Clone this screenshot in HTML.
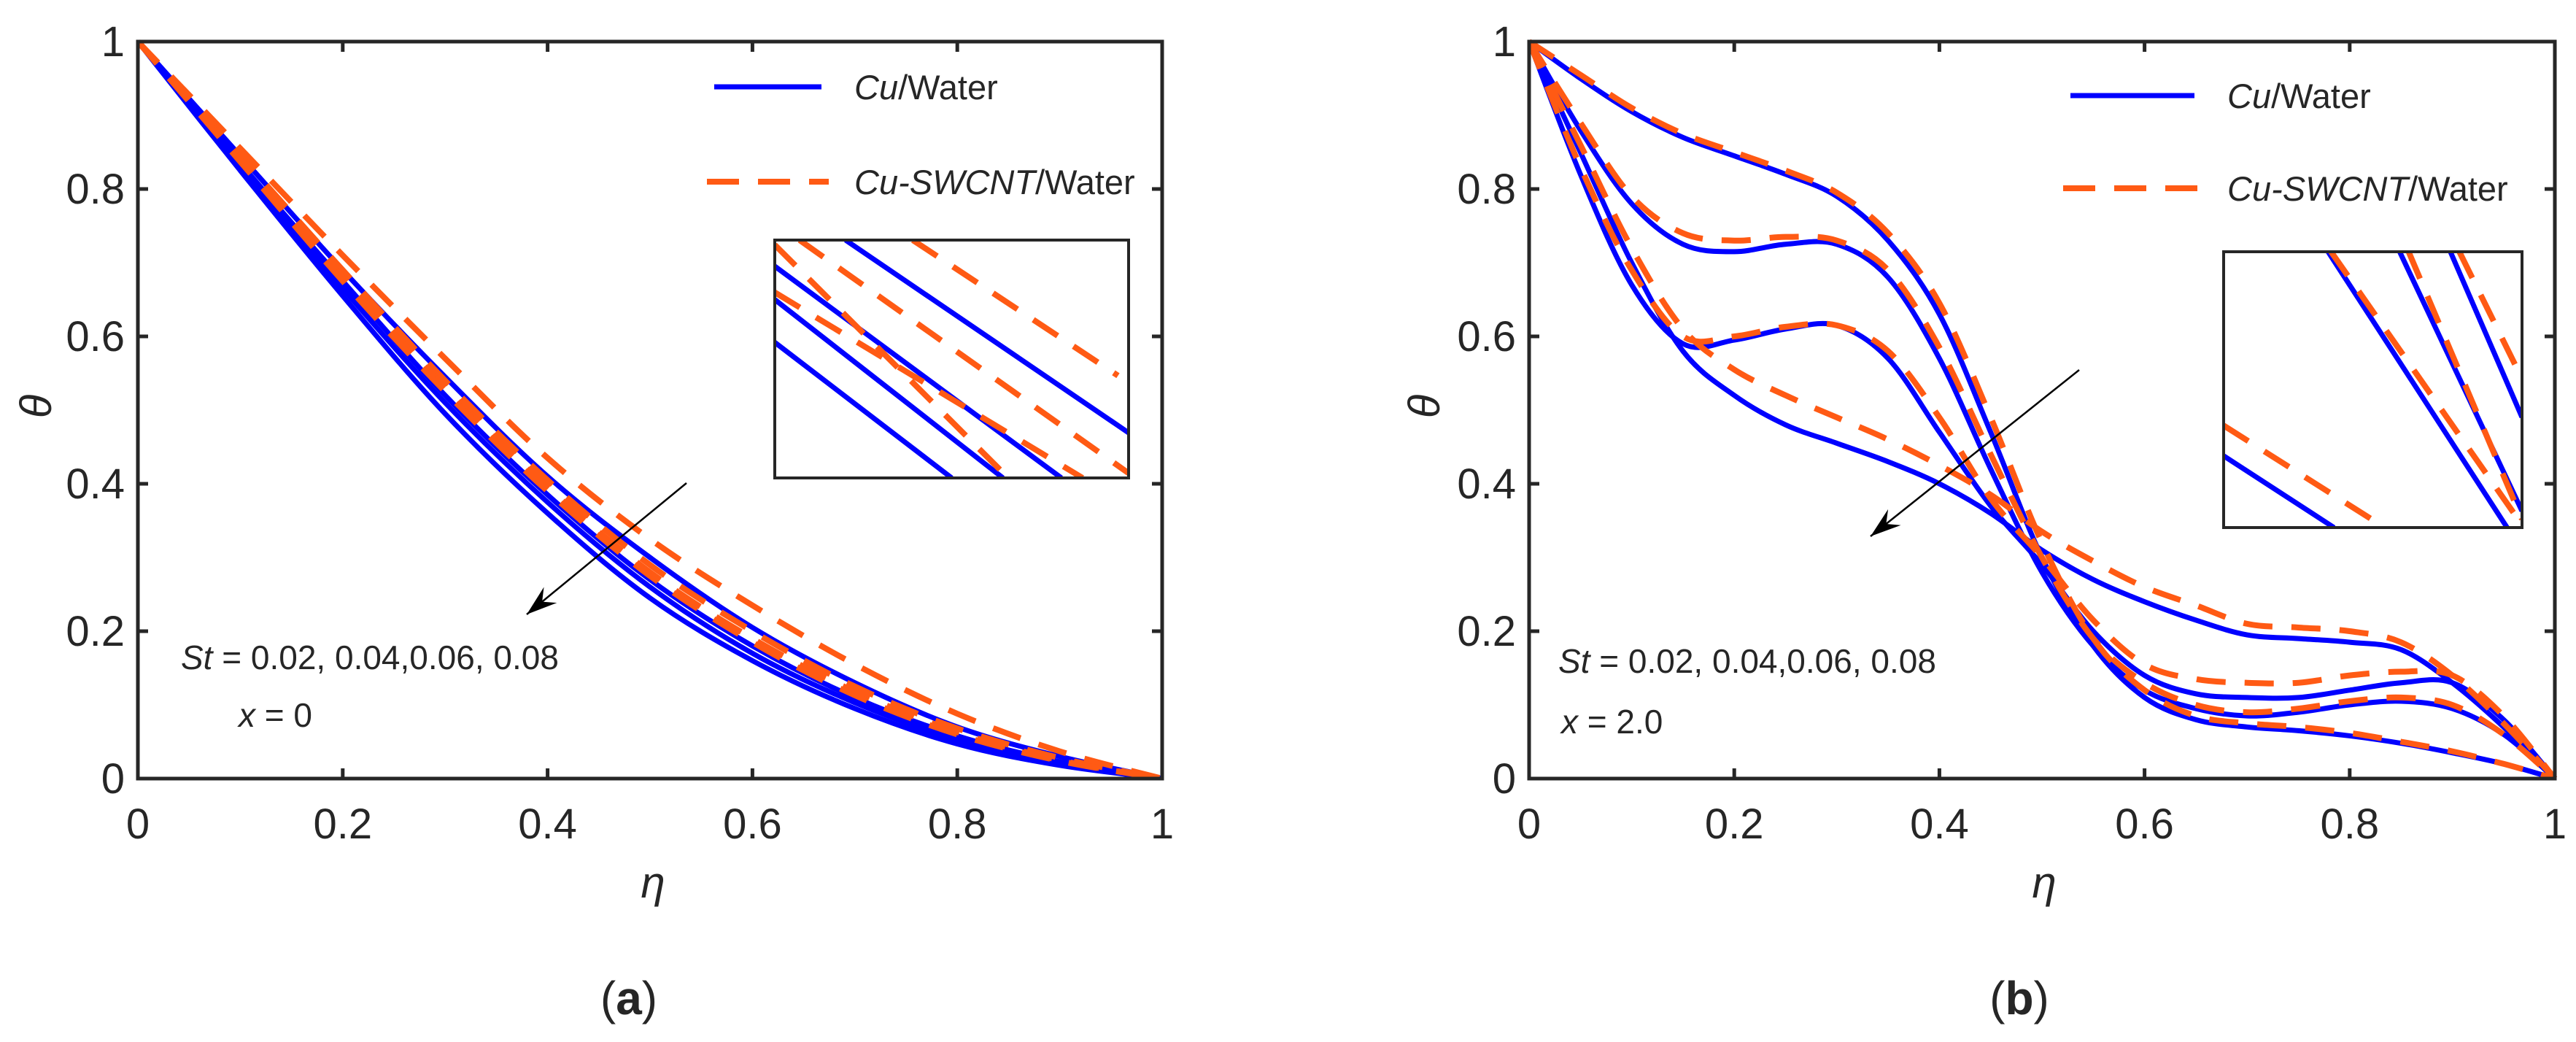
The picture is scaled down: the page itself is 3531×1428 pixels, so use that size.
<!DOCTYPE html>
<html><head><meta charset="utf-8"><style>
html,body{margin:0;padding:0;background:#fff;}
svg{display:block;}
text{font-family:"Liberation Sans",sans-serif;fill:#262626;}
</style></head><body>
<svg id="fig" width="3531" height="1428" viewBox="0 0 3531 1428" xmlns="http://www.w3.org/2000/svg"></svg>
<script>
// ---- data ----
const etaA = [0,0.1,0.2,0.3,0.4,0.5,0.6,0.7,0.8,0.9,1];
const cuWaterA = [
 [1,.845,.69,.545,.41,.30,.205,.13,.07,.03,0],
 [1,.835,.675,.52,.385,.27,.18,.11,.058,.023,0],
 [1,.83,.665,.51,.375,.26,.17,.103,.053,.02,0],
 [1,.825,.655,.495,.36,.245,.16,.095,.047,.018,0]];
const hybridA = [
 [1,.855,.71,.57,.435,.325,.235,.155,.088,.037,0],
 [1,.845,.69,.54,.405,.29,.20,.125,.068,.028,0],
 [1,.84,.68,.53,.395,.28,.19,.118,.063,.025,0],
 [1,.837,.675,.525,.39,.275,.185,.113,.06,.024,0]];
const etaB = [0,.05,.1,.15,.2,.25,.3,.35,.4,.45,.5,.55,.6,.65,.7,.75,.8,.85,.9,.95,1];
const cuWaterB = [
 [1,.95,.905,.87,.845,.82,.79,.73,.63,.47,.30,.18,.11,.08,.07,.065,.058,.048,.035,.02,0],
 [1,.88,.78,.725,.715,.725,.725,.68,.57,.42,.28,.18,.12,.095,.085,.09,.10,.105,.095,.06,0],
 [1,.82,.67,.59,.595,.61,.615,.57,.47,.37,.29,.2,.14,.115,.11,.11,.12,.13,.13,.08,0],
 [1,.85,.70,.58,.52,.48,.455,.43,.40,.36,.31,.27,.24,.215,.195,.19,.185,.175,.13,.07,0]];
const hybridB = [
 [1,.955,.91,.875,.85,.825,.795,.74,.645,.49,.32,.19,.12,.085,.075,.07,.062,.05,.037,.02,0],
 [1,.89,.79,.74,.73,.735,.73,.69,.585,.44,.30,.19,.13,.10,.09,.095,.105,.11,.10,.06,0],
 [1,.83,.69,.60,.60,.613,.615,.58,.49,.38,.30,.215,.155,.135,.13,.13,.14,.145,.14,.085,0],
 [1,.86,.72,.61,.555,.52,.49,.46,.425,.385,.335,.295,.26,.235,.21,.205,.2,.185,.14,.075,0]];
const ticks = [0,0.2,0.4,0.6,0.8,1];
const tickLabels = ["0","0.2","0.4","0.6","0.8","1"];
// inset segments in inset-fraction units [x1,y1,x2,y2]
const insetA_blue = [[.20,0,1,.81],[0,.11,.81,1],[0,.25,.645,1],[0,.43,.5,1]];
const insetA_orange = [[.39,0,.97,.57],[.07,0,1,.98],[0,.22,.87,1],[0,.02,.66,1]];
const insetB_blue = [[.35,0,.95,1],[.59,0,1,.94],[.76,0,1,.6],[0,.74,.37,1]];
const insetB_orange = [[.36,0,1,.99],[.62,0,1,.97],[.79,0,1,.46],[0,.63,.54,1]];

const NS="http://www.w3.org/2000/svg";
const svg=document.getElementById('fig');
function mk(tag,attrs,parent,text){const e=document.createElementNS(NS,tag);for(const k in attrs)e.setAttribute(k,attrs[k]);if(text!==undefined)e.textContent=text;(parent||svg).appendChild(e);return e;}
function smoothPath(pts){let d=`M${pts[0][0]},${pts[0][1]}`;for(let i=0;i<pts.length-1;i++){const p0=pts[Math.max(0,i-1)],p1=pts[i],p2=pts[i+1],p3=pts[Math.min(pts.length-1,i+2)];const c1=[p1[0]+(p2[0]-p0[0])/6,p1[1]+(p2[1]-p0[1])/6],c2=[p2[0]-(p3[0]-p1[0])/6,p2[1]-(p3[1]-p1[1])/6];d+=` C${c1[0]},${c1[1]} ${c2[0]},${c2[1]} ${p2[0]},${p2[1]}`;}return d;}

function panel(cfg){
 const g=mk('g',{});
 
 
 const L=cfg.x0,R=cfg.x1,T=57,B=1067;
 const sx=v=>L+v*(R-L), sy=v=>B-v*(B-T);
 const clipId='clip'+cfg.id;
 const cp=mk('clipPath',{id:clipId},g);mk('rect',{x:L,y:T-6,width:R-L+6,height:B-T+6},cp);
 const cg=mk('g',{'clip-path':`url(#${clipId})`},g);
 cfg.blue.forEach((s,i)=>{const p=mk('path',{d:smoothPath(cfg.eta.map((e,j)=>[sx(e),sy(s[j])])),fill:'none',stroke:'#0000ff','stroke-width':7},cg);
  });
 cfg.orange.forEach((s,i)=>{const p=mk('path',{d:smoothPath(cfg.eta.map((e,j)=>[sx(e),sy(s[j])])),fill:'none',stroke:'#ff5a14','stroke-width':8,'stroke-dasharray':'40 26'},cg);
  });
 const box=mk('rect',{x:L,y:T,width:R-L,height:B-T,fill:'none',stroke:'#262626','stroke-width':5},g);
 
 ticks.forEach((t,i)=>{
  mk('line',{x1:sx(t),y1:B,x2:sx(t),y2:B-14,stroke:'#262626','stroke-width':5},g);
  mk('line',{x1:sx(t),y1:T,x2:sx(t),y2:T+14,stroke:'#262626','stroke-width':5},g);
  mk('line',{x1:L,y1:sy(t),x2:L+14,y2:sy(t),stroke:'#262626','stroke-width':5},g);
  mk('line',{x1:R,y1:sy(t),x2:R-14,y2:sy(t),stroke:'#262626','stroke-width':5},g);
  const xl=mk('text',{x:sx(t),y:B+82,'font-size':58,'text-anchor':'middle'},g,tickLabels[i]);
  
  const yl=mk('text',{x:L-18,y:sy(t)+20,'font-size':58,'text-anchor':'end'},g,tickLabels[i]);
  
 });
 const xt=mk('text',{x:cfg.etaX,y:1230,'font-size':60,'font-style':'italic','font-family':'Liberation Serif, serif','text-anchor':'middle'},g,'η');
 
 const yt=mk('text',{x:cfg.thX,y:575,'font-size':60,'font-style':'italic','font-family':'Liberation Serif, serif','text-anchor':'middle',transform:`rotate(-90 ${cfg.thX} 557)`},g,'θ');
 
 const lg=mk('g',{},g);
 mk('line',{x1:cfg.lx1,y1:cfg.ly1,x2:cfg.lx2,y2:cfg.ly1,stroke:'#0000ff','stroke-width':7},lg);
 const t1=mk('text',{x:cfg.ltx,y:cfg.ly1+17,'font-size':47},lg);
 mk('tspan',{'font-style':'italic'},t1,'Cu');mk('tspan',{},t1,'/Water');
 
 mk('line',{x1:cfg.lx1-10,y1:cfg.ly2,x2:cfg.lx2+10,y2:cfg.ly2,stroke:'#ff5a14','stroke-width':8,'stroke-dasharray':'44 26'},lg);
 const t2=mk('text',{x:cfg.ltx,y:cfg.ly2+17,'font-size':47},lg);
 mk('tspan',{'font-style':'italic'},t2,'Cu-SWCNT');mk('tspan',{},t2,'/Water');
 
 const ig=mk('g',{},g);
 const I=cfg.inset;const icid='iclip'+cfg.id;
 const icp=mk('clipPath',{id:icid},ig);mk('rect',{x:I[0],y:I[1],width:I[2]-I[0],height:I[3]-I[1]},icp);
 mk('rect',{x:I[0],y:I[1],width:I[2]-I[0],height:I[3]-I[1],fill:'#fff'},ig);
 const icg=mk('g',{'clip-path':`url(#${icid})`},ig);
 const ix=f=>I[0]+f*(I[2]-I[0]), iy=f=>I[1]+f*(I[3]-I[1]);
 cfg.ib.forEach(s=>mk('line',{x1:ix(s[0]),y1:iy(s[1]),x2:ix(s[2]),y2:iy(s[3]),stroke:'#0000ff','stroke-width':7},icg));
 cfg.io.forEach(s=>mk('line',{x1:ix(s[0]),y1:iy(s[1]),x2:ix(s[2]),y2:iy(s[3]),stroke:'#ff5a14','stroke-width':8,'stroke-dasharray':'40 26'},icg));
 mk('rect',{x:I[0],y:I[1],width:I[2]-I[0],height:I[3]-I[1],fill:'none',stroke:'#262626','stroke-width':4},ig);
 const A=cfg.arrow;const ag=mk('g',{},g);
 mk('line',{x1:A[0],y1:A[1],x2:A[2],y2:A[3],stroke:'#000','stroke-width':2.5},ag);
 const ang=Math.atan2(A[3]-A[1],A[2]-A[0]),hl=42,hw=14;
 const bx=A[2]-hl*Math.cos(ang),by=A[3]-hl*Math.sin(ang);
 mk('polygon',{points:`${A[2]},${A[3]} ${bx+hw*Math.sin(ang)},${by-hw*Math.cos(ang)} ${bx+0.35*hl*Math.cos(ang)},${by+0.35*hl*Math.sin(ang)} ${bx-hw*Math.sin(ang)},${by+hw*Math.cos(ang)}`,fill:'#000'},ag);
 const st=mk('text',{x:cfg.stX,y:cfg.stY,'font-size':46},g);
 mk('tspan',{'font-style':'italic'},st,'St');mk('tspan',{},st,' = 0.02, 0.04,0.06, 0.08');
 
 const xa=mk('text',{x:cfg.xaX,y:cfg.xaY,'font-size':46},g);
 mk('tspan',{'font-style':'italic'},xa,'x');mk('tspan',{},xa,' = '+cfg.xval);
 
 const cap=mk('text',{x:cfg.capX,y:1390,'font-size':64,'font-family':'Liberation Serif, serif','text-anchor':'middle',fill:'#000'},g);
 mk('tspan',{},cap,'(');mk('tspan',{'font-weight':'bold'},cap,cfg.cap);mk('tspan',{},cap,')');
 
}
panel({id:'a',name:'panel-a',x0:189,x1:1593,eta:etaA,blue:cuWaterA,orange:hybridA,etaX:895,thX:52,
 lx1:979,lx2:1126,ly1:119,ly2:249,ltx:1171,inset:[1062,329,1547,655],ib:insetA_blue,io:insetA_orange,
 arrow:[941,662,722,842],stX:248,stY:917,xaX:327,xaY:996,xval:'0',capX:862,cap:'a'});
panel({id:'b',name:'panel-b',x0:2096,x1:3502,eta:etaB,blue:cuWaterB,orange:hybridB,etaX:2802,thX:1955,
 lx1:2838,lx2:3008,ly1:131,ly2:258,ltx:3053,inset:[3048,345,3457,723],ib:insetB_blue,io:insetB_orange,
 arrow:[2850,507,2564,735],stX:2136,stY:922,xaX:2140,xaY:1005,xval:'2.0',capX:2768,cap:'b'});
</script>
</body></html>
